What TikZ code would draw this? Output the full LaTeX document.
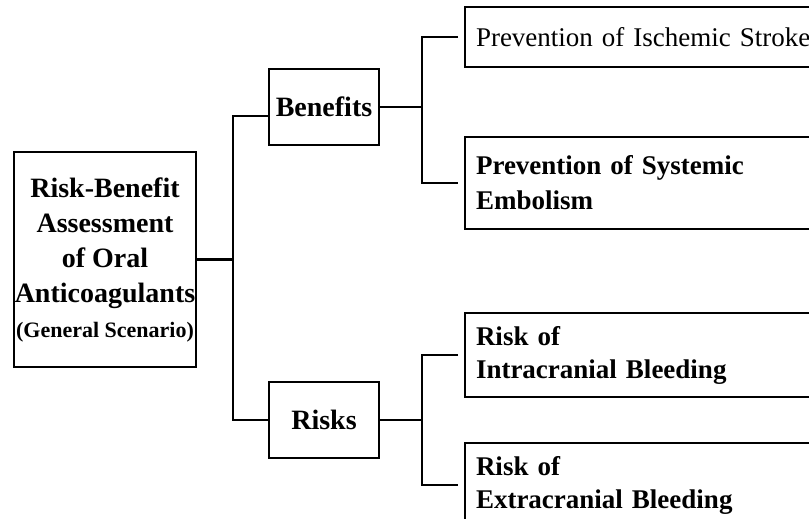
\documentclass[tikz,border=0pt]{standalone}
\usepackage{fontspec}
\setmainfont{Liberation Serif}
\usetikzlibrary{calc}
\tikzset{
	box/.style={draw, line width=2.4pt, inner sep=0pt, outer sep=0pt, align=center},
	leaf/.style={box, anchor=north west, align=left, text width=380pt, inner xsep=11pt},
	link/.style={line width=2.4pt}
}

\begin{document}
\begin{tikzpicture}[x=1pt, y=-1pt]
			%%%%% START %%%%%
			\useasboundingbox (0, 0) rectangle (809, 519);
			\clip (0, 0) rectangle (809, 519);
			
			\node[box, minimum width=182pt, minimum height=215pt, font=\fontsize{28}{35}\selectfont\bfseries] (root) at (105, 259.5)
				{Risk-Benefit\\Assessment\\of Oral\\Anticoagulants\\{\fontsize{22}{29}\selectfont(General Scenario)}};
			
			\node[box, minimum width=110pt, minimum height=76pt, font=\fontsize{28}{35}\selectfont\bfseries] (benefits) at (324, 107) {Benefits};
			\node[box, minimum width=110pt, minimum height=76pt, font=\fontsize{28}{35}\selectfont\bfseries] (risks) at (324, 420) {Risks};
			
			\node[leaf, minimum height=60pt, font=\fontsize{27}{34}\selectfont] (stroke) at (465, 7) {Prevention of Ischemic Stroke};
			\node[leaf, minimum height=92pt, font=\fontsize{27}{35}\selectfont\bfseries] (embol) at (465, 137) {Prevention of Systemic\\Embolism};
			\node[leaf, minimum height=84pt, font=\fontsize{27}{33}\selectfont\bfseries] (intra) at (465, 313) {Risk of\\Intracranial Bleeding};
			\node[leaf, minimum height=84pt, font=\fontsize{27}{33}\selectfont\bfseries] (extra) at (465, 443) {Risk of\\Extracranial Bleeding};
			
			% trunk
			\coordinate (trunk) at (233, 259.5);
			\draw[link] (root.east) -- (trunk);
			\draw[link] ([yshift=-9pt]benefits.west) -| (trunk) |- (risks.west);
			
			% benefits branch
			\draw[link] (benefits.east) -- ++(43, 0) coordinate (bj);
			\draw[link] ([xshift=-7pt]stroke.west) -| (bj) |- ([xshift=-7pt]embol.west);
			
			% risks branch
			\draw[link] (risks.east) -- ++(43, 0) coordinate (rj);
			\draw[link] ([xshift=-7pt]intra.west) -| (rj) |- ([xshift=-7pt]extra.west);
			
			%%%%% END %%%%%
		\end{tikzpicture}
\end{document}
